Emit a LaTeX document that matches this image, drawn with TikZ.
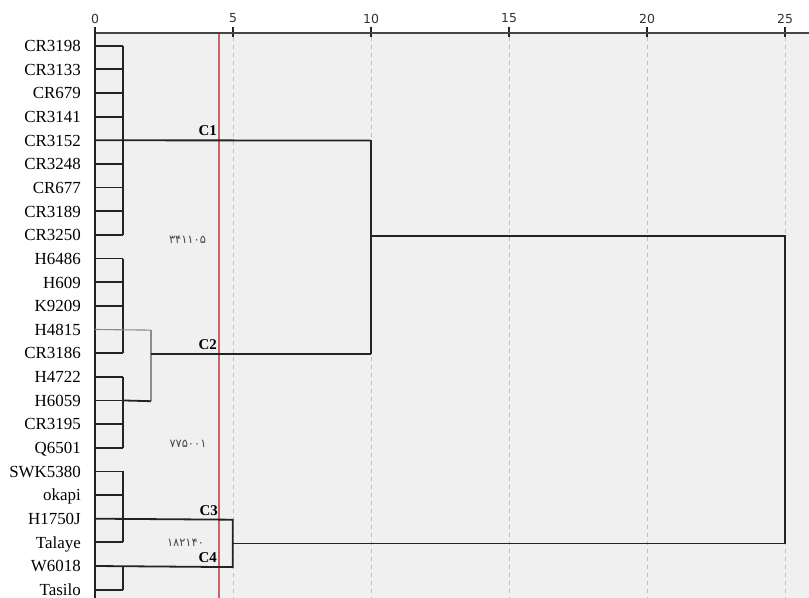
\documentclass[tikz,border=0pt]{standalone}
\usepackage{fontspec}
\setmainfont{Liberation Serif}
\newfontfamily\axisfont{DejaVu Sans}
\newfontfamily\farsifont[Script=Arabic]{DejaVu Sans}
\definecolor{panel}{RGB}{240,240,240}
\definecolor{linkcol}{RGB}{35,35,35}
\definecolor{gridcol}{RGB}{190,190,190}
\definecolor{cutcol}{RGB}{200,100,105}
\definecolor{numcol}{RGB}{70,70,70}
\definecolor{faintcol}{RGB}{140,140,140}
\begin{document}
\begin{tikzpicture}[x=1bp,y=-1bp,
  link/.style={draw=linkcol, line width=1.8bp},
  faintlink/.style={draw=faintcol, line width=1.1bp},
  gridline/.style={draw=gridcol, line width=0.8bp, dash pattern=on 4bp off 4bp},
  leaflabel/.style={anchor=east, inner sep=0pt, font=\fontsize{17}{17}\selectfont, text height=11.6bp, text depth=0pt},
  clabel/.style={anchor=base east, inner sep=0pt, font=\fontsize{15}{15}\selectfont\bfseries},
  farsinum/.style={inner sep=0pt, text=numcol, font=\farsifont\fontsize{11.5}{11.5}\selectfont},
  axisnum/.style={inner sep=0pt, text={rgb,255:red,50;green,50;blue,50}, font=\axisfont\fontsize{12.5}{12.5}\selectfont}
]
\useasboundingbox (0,0) rectangle (809,598);
% panel
\fill[panel] (95,33) rectangle (809,598);
% grid lines and ticks
\foreach \v in {5,10,15,20,25} {
  \draw[gridline] ({95+27.6*\v},37) -- ({95+27.6*\v},598);
}
\foreach \v in {0,5,10,15,20,25} {
  \node[axisnum] (ax\v) at ({95+27.6*\v},18.5) {\v};
  \draw[draw=linkcol, line width=1.5bp] ({95+27.6*\v},27) -- ({95+27.6*\v},37);
}
\draw[draw={rgb,255:red,70;green,70;blue,70}, line width=1.8bp] (95,33) -- (809,33);
\draw[draw=linkcol, line width=1.8bp] (95,27) -- (95,598);
% cut line
\draw[draw=cutcol, line width=1.1bp] (219,34) -- (219,598);

% leaves
\foreach \name [count=\i] in {CR3198,CR3133,CR679,CR3141,CR3152,CR3248,CR677,CR3189,CR3250,H6486,H609,K9209,H4815,CR3186,H4722,H6059,CR3195,Q6501,SWK5380,okapi,H1750J,Talaye,W6018,Tasilo} {
  \pgfmathsetmacro{\yy}{45.7+23.65*(\i-1)}
  \coordinate (l\i) at (95,\yy);
  \coordinate (k\i) at (122.7,\yy);
  \node[leaflabel] (n\i) at (81,\yy) {\name};
}
% ordinary leaf stubs
\foreach \i in {1,2,3,4,6,7,8,9,10,11,12,14,15,16,17,18,19,20,22,24} {
  \draw[link] (l\i) -- (k\i);
}
% cluster 1
\draw[link] (k1) -- (k9);
\coordinate (c1e) at (370.7,140.5);
\draw[link] (l5) -- (c1e);
% cluster 2
\draw[link] (k10) -- (k14);
\draw[link] (k15) -- (k18);
\coordinate (h2a) at (151,330.1);
\coordinate (h2b) at (151,401.2);
\coordinate (h2m) at (151,353.8);
\coordinate (c2e) at (370.7,353.8);
\draw[faintlink] (l13) -- (h2a);
\draw[faintlink] (h2a) -- (h2b);
\draw[link] (k16) -- (h2b);
\draw[link] (h2m) -- (c2e);
% cluster 3 and 4
\draw[link] (k19) -- (k22);
\draw[link] (k23) -- (k24);
\coordinate (h3) at (232.7,519.7);
\coordinate (h4) at (232.7,567.1);
\coordinate (h34) at (232.7,543.4);
\draw[link] (l21) -- (h3) -- (h4) -- (l23);
% upper joins
\coordinate (u1) at (370.7,236);
\coordinate (r1) at (785,236);
\coordinate (r2) at (785,543.4);
\draw[link] (c1e) -- (c2e);
\draw[link] (u1) -- (r1) -- (r2) -- (h34);

% cluster labels
\node[clabel] (C1) at (217,136) {C1};
\node[clabel] (C2) at (217,349.5) {C2};
\node[clabel] (C3) at (218,515.5) {C3};
\node[clabel] (C4) at (217,562.3) {C4};
% numbers
\node[farsinum] (f1) at (187.5,240) {۳۴۱۱۰۵};
\node[farsinum] (f2) at (188,444) {۷۷۵۰۰۱};
\node[farsinum] (f3) at (185.5,543) {۱۸۲۱۴۰};
\end{tikzpicture}
\end{document}
